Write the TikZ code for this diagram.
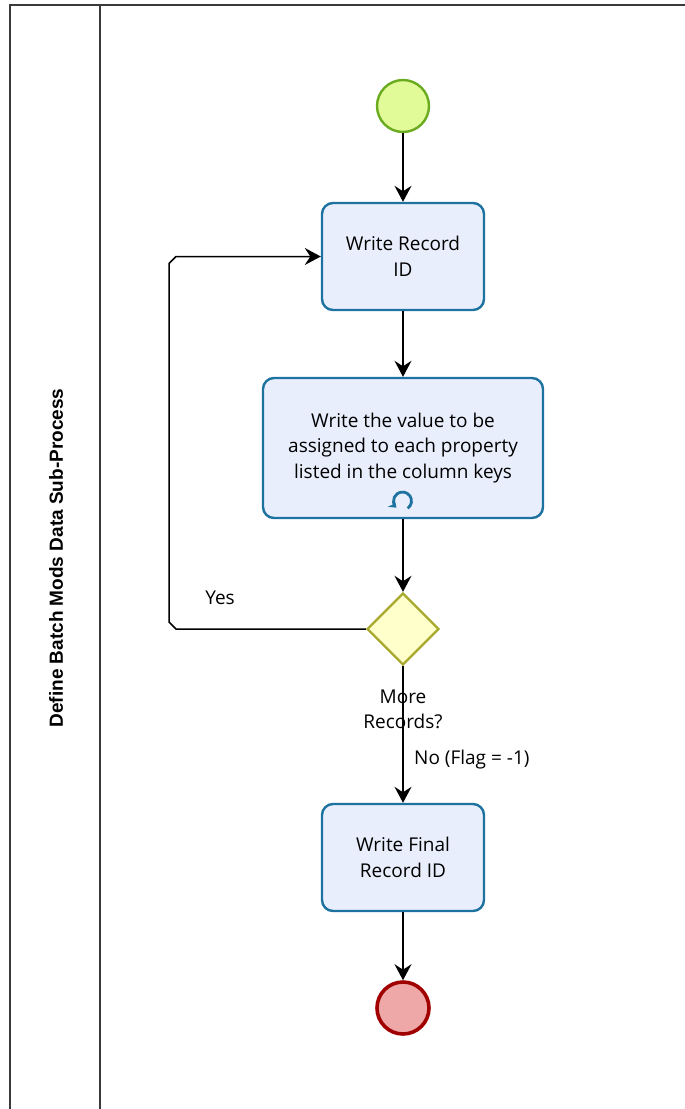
\documentclass[tikz,border=0pt]{standalone}
\usepackage{fontspec}
\setmainfont{Open Sans}
\newfontfamily\lanefont{Liberation Sans}
\usetikzlibrary{shapes.geometric,arrows.meta,calc}
\definecolor{taskfill}{HTML}{E9EEFC}
\definecolor{taskline}{HTML}{1D72A0}
\definecolor{startfill}{HTML}{E1FB99}
\definecolor{startline}{HTML}{6AAB1F}
\definecolor{endfill}{HTML}{EEA8A8}
\definecolor{endline}{HTML}{A10000}
\definecolor{gwfill}{HTML}{FFFFCC}
\definecolor{gwline}{HTML}{A9A92E}
\definecolor{poolline}{HTML}{3A3A3A}
\definecolor{loopblue}{HTML}{1D72A0}
\tikzset{
  pool/.style={draw=poolline, line width=2.2pt},
  txt/.style={font=\fontsize{19}{25.5}\selectfont},
  task/.style={txt, draw=taskline, fill=taskfill, line width=2.4pt, rounded corners=11pt,
    align=center, inner sep=0pt},
  startev/.style={circle, draw=startline, fill=startfill, line width=2.4pt,
    minimum size=52pt, inner sep=0pt},
  endev/.style={circle, draw=endline, fill=endfill, line width=3.6pt,
    minimum size=52pt, inner sep=0pt},
  gateway/.style={diamond, draw=gwline, fill=gwfill, line width=2.4pt,
    minimum width=72pt, minimum height=72pt, inner sep=0pt},
  flow/.style={draw=black, line width=1.5pt,
    -{Stealth[length=16pt,width=17pt,inset=5.5pt]}},
  lbl/.style={txt, align=center, inner sep=0pt},
}
\begin{document}
\begin{tikzpicture}[x=1pt,y=-1pt]
\useasboundingbox (0,0) rectangle (685,1109);

% pool and lane frame
\draw[pool] (685,5) -- (10,5) -- (10,1109);
\draw[pool] (100,5) -- (100,1109);
\node[rotate=90, font=\lanefont\fontsize{19}{22}\selectfont\bfseries] (lane) at (56,558)
  {Define Batch Mods Data Sub-Process};

% flow elements
\node[startev] (start) at (403,106) {};
\node[task, minimum width=162pt, minimum height=107pt] (rec) at (403,256.5)
  {Write Record\\ID};
\node[task, minimum width=280pt, minimum height=140pt] (val) at (403,448)
  {Write the value to be\\assigned to each property\\listed in the column keys};
\node[gateway] (gw) at (403,629) {};
\node[task, minimum width=162pt, minimum height=107pt] (fin) at (403,857.5)
  {Write Final\\Record ID};
\node[endev] (end) at (403,1008) {};

% loop marker of the multi-instance task
\coordinate (loopc) at (402.5,501);
\draw[loopblue, line width=2.8pt, -{Stealth[length=7pt,width=10pt]}]
  ($(loopc)+(55:9)$) arc[start angle=55, end angle=-228, radius=9];

% sequence flows
\draw[flow] (start) -- (rec);
\draw[flow] (rec) -- (val);
\draw[flow] (val) -- (gw);
\draw[flow] (gw) -- (fin);
\draw[flow] (fin) -- (end);
\coordinate (lx) at (169,0);
\draw[flow] (gw.west) -- ($(gw.west -| lx)+(7,0)$) -- ($(gw.west -| lx)+(0,-7)$)
  -- ($(rec.west -| lx)+(0,7)$) -- ($(rec.west -| lx)+(7,0)$) -- (rec.west);

% labels
\node[lbl] (yes) at (220,598) {Yes};
\node[lbl] (more) at (403,709.5) {More\\Records?};
\node[lbl, anchor=west] (no) at (414,760) {No (Flag = -1)};
\end{tikzpicture}
\end{document}
